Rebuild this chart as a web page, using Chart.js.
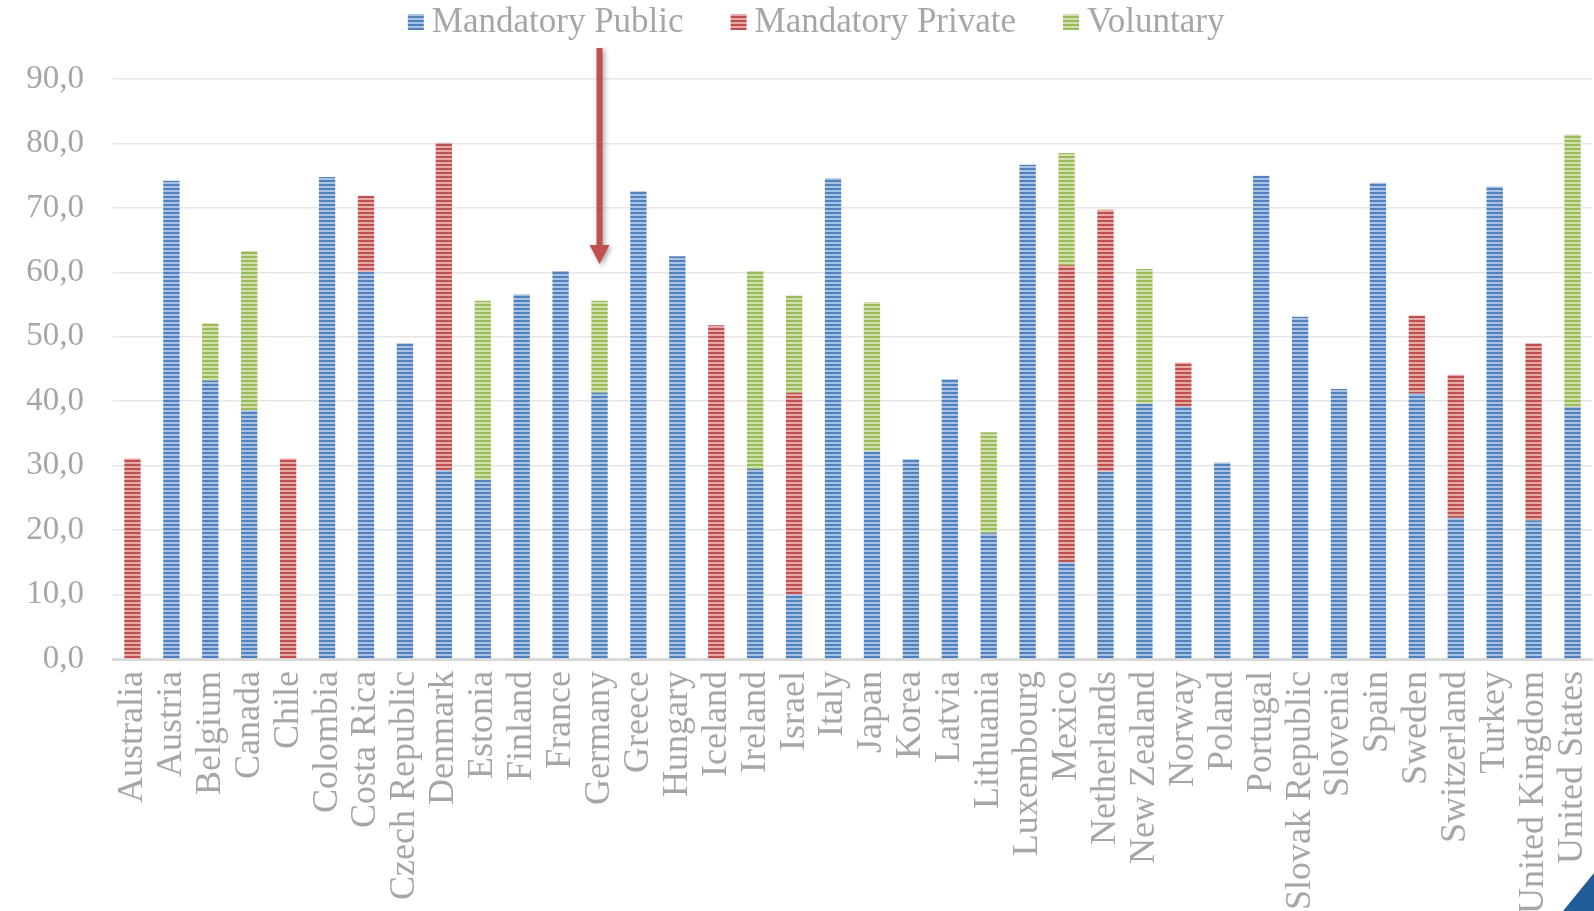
<!DOCTYPE html>
<html>
<head>
<meta charset="utf-8">
<title>Replacement rates by country</title>
<script src="https://cdn.jsdelivr.net/npm/chart.js"></script>
<style>
    body { margin: 0; background: #ffffff; }
    #chartWrapper { position: relative; width: 1594px; height: 911px; }
</style>
</head>
<body>
<div id="chartWrapper">
    <canvas id="myChart"></canvas>
</div>

<script>
const countries = [
    'Australia', 'Austria', 'Belgium', 'Canada', 'Chile', 'Colombia', 'Costa Rica',
    'Czech Republic', 'Denmark', 'Estonia', 'Finland', 'France', 'Germany', 'Greece',
    'Hungary', 'Iceland', 'Ireland', 'Israel', 'Italy', 'Japan', 'Korea', 'Latvia',
    'Lithuania', 'Luxembourg', 'Mexico', 'Netherlands', 'New Zealand', 'Norway', 'Poland',
    'Portugal', 'Slovak Republic', 'Slovenia', 'Spain', 'Sweden', 'Switzerland', 'Turkey',
    'United Kingdom', 'United States'
];

const mandatoryPublic = [
    0, 74.2, 43.2, 38.6, 0, 74.8, 60.1,
    49.0, 29.3, 27.8, 56.6, 60.2, 41.3, 72.6,
    62.5, 0, 29.5, 10.0, 74.6, 32.2, 31.0, 43.4,
    19.5, 76.7, 15.0, 29.1, 39.6, 39.2, 30.5,
    75.0, 53.1, 41.9, 73.9, 41.2, 21.9, 73.3,
    21.5, 39.1
];

const mandatoryPrivate = [
    31.1, 0, 0, 0, 31.1, 0, 11.8,
    0, 50.8, 0, 0, 0, 0, 0,
    0, 51.8, 0, 31.3, 0, 0, 0, 0,
    0, 0, 46.1, 40.6, 0, 6.8, 0,
    0, 0, 0, 0, 12.1, 22.2, 0,
    27.5, 0
];

const voluntary = [
    0, 0, 8.9, 24.7, 0, 0, 0,
    0, 0, 27.8, 0, 0, 14.3, 0,
    0, 0, 30.7, 15.1, 0, 23.2, 0, 0,
    15.7, 0, 17.4, 0, 20.9, 0, 0,
    0, 0, 0, 0, 0, 0, 0,
    0, 42.3
];

const seriesNames = ['Mandatory Public', 'Mandatory Private', 'Voluntary'];
const yMax = 90;
const yStep = 10;

// the arrow points down at this country's bar
const highlighted = 'Germany';
const arrowTop = 94.8;
const arrowTip = 61.3;

const greyText = '#a6a6a6';
const fontFamily = "'Liberation Serif', 'Times New Roman', serif";

const canvas = document.getElementById('myChart');
const ctx = canvas.getContext('2d');

// horizontal hatching used for the bar fills
function stripes(dark, light) {
    const tile = document.createElement('canvas');
    tile.width = 4;
    tile.height = 4;
    const t = tile.getContext('2d');
    t.fillStyle = light;
    t.fillRect(0, 0, 4, 4);
    t.fillStyle = dark;
    t.fillRect(0, 0, 4, 2);
    return ctx.createPattern(tile, 'repeat');
}

const blueFill = stripes('#4f81bd', '#a9c2e4');
const redFill = stripes('#c0504d', '#e5a9a7');
const greenFill = stripes('#9bbb59', '#cfdfae');

// legend row across the top
const topLegend = {
    id: 'topLegend',
    afterDraw(chart) {
        const c = chart.ctx;
        const box = 16, gap = 8, spacing = 47, centerY = 22;
        c.save();
        c.font = '35px ' + fontFamily;
        c.textBaseline = 'middle';
        const items = chart.data.datasets.map(ds => ({
            label: ds.label,
            fill: ds.backgroundColor,
            w: c.measureText(ds.label).width
        }));
        const total = items.reduce((s, it) => s + box + gap + it.w, 0) + spacing * (items.length - 1);
        let x = chart.width * 0.512 - total / 2;
        items.forEach(it => {
            c.fillStyle = it.fill;
            c.fillRect(x, centerY - box / 2, box, box);
            x += box + gap;
            c.fillStyle = greyText;
            c.fillText(it.label, x, centerY + 1);
            x += it.w + spacing;
        });
        c.restore();
    }
};

// red call-out arrow and corner mark
const decorations = {
    id: 'decorations',
    afterDatasetsDraw(chart) {
        const c = chart.ctx;
        const xs = chart.scales.x, ys = chart.scales.y;
        const x = xs.getPixelForValue(countries.indexOf(highlighted));
        const top = ys.getPixelForValue(arrowTop);
        const tip = ys.getPixelForValue(arrowTip);
        const head = 19;
        c.save();
        c.shadowColor = 'rgba(0, 0, 0, 0.35)';
        c.shadowBlur = 5;
        c.shadowOffsetX = 2;
        c.shadowOffsetY = 2;
        c.fillStyle = '#c0504d';
        c.beginPath();
        c.moveTo(x - 3, top);
        c.lineTo(x + 3, top);
        c.lineTo(x + 3, tip - head);
        c.lineTo(x + 10, tip - head);
        c.lineTo(x, tip);
        c.lineTo(x - 10, tip - head);
        c.lineTo(x - 3, tip - head);
        c.closePath();
        c.fill();
        c.restore();

        c.save();
        c.fillStyle = '#1f5c99';
        c.beginPath();
        c.moveTo(chart.width, chart.height - 38);
        c.lineTo(chart.width, chart.height);
        c.lineTo(chart.width - 31, chart.height);
        c.closePath();
        c.fill();
        c.restore();
    }
};

Chart.defaults.font.family = fontFamily;

const myChart = new Chart(ctx, {
    type: 'bar',
    plugins: [topLegend, decorations],
    data: {
        labels: countries,
        datasets: [
            { label: seriesNames[0], data: mandatoryPublic, backgroundColor: blueFill },
            { label: seriesNames[1], data: mandatoryPrivate, backgroundColor: redFill },
            { label: seriesNames[2], data: voluntary, backgroundColor: greenFill }
        ]
    },
    options: {
        responsive: true,
        maintainAspectRatio: false,
        animation: false,
        datasets: {
            bar: { categoryPercentage: 1, barPercentage: 0.42, borderWidth: 0 }
        },
        layout: { padding: { top: 79, left: 0, right: 2, bottom: 0 } },
        plugins: {
            legend: { display: false },
            tooltip: { enabled: false }
        },
        scales: {
            x: {
                stacked: true,
                grid: { display: false, drawTicks: false },
                border: { display: true, color: '#d9d9d9', width: 3 },
                ticks: {
                    autoSkip: false,
                    maxRotation: 90,
                    minRotation: 90,
                    padding: 12,
                    color: greyText,
                    font: { size: 36 }
                },
                afterFit(scale) {
                    scale.height = 252;
                    scale.paddingLeft = 0;
                    scale.paddingRight = 0;
                }
            },
            y: {
                stacked: true,
                min: 0,
                max: yMax,
                grid: { color: '#e6e6e6', lineWidth: 1.5, drawTicks: false },
                border: { display: false },
                ticks: {
                    stepSize: yStep,
                    padding: 29,
                    color: greyText,
                    font: { size: 33 },
                    callback: v => v.toFixed(1).replace('.', ',')
                },
                afterFit(scale) { scale.width = 113; }
            }
        }
    }
});
</script>
</body>
</html>
